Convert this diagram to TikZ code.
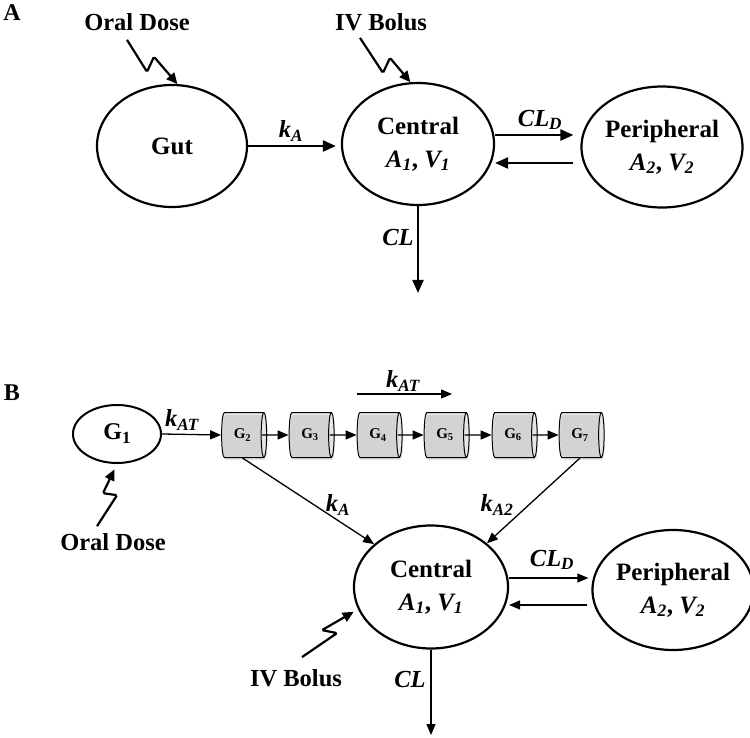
\documentclass[tikz,border=0pt]{standalone}
\usepackage{fontspec}
\setmainfont{Liberation Serif}
\usetikzlibrary{positioning,shapes.geometric,arrows.meta,shadows}
\tikzset{comp/.style = {ellipse,draw,line width=2.2pt,inner sep=0pt,align=center,font=\fontsize{25}{33}\selectfont\bfseries},
  lbl/.style = {inner sep=1pt,font=\fontsize{24.5}{28}\selectfont\bfseries},
  tube/.style = {cylinder,draw,line width=1pt,shape aspect=0.45,minimum width=45pt,minimum height=45pt,inner sep=0pt,
    cylinder uses custom fill,cylinder body fill=gray!18,cylinder end fill=white,
    drop shadow={opacity=0.2,shadow xshift=1pt,shadow yshift=-2.5pt},font=\fontsize{15}{18}\selectfont\bfseries},
  thick arr/.style = {line width=2.2pt,-{Triangle[length=13pt,width=11pt]}},
  thin arr/.style = {line width=1.3pt,-{Triangle[length=11pt,width=9pt]}},
  squig/.style = {line width=2.2pt,rounded corners=1.5pt,-{Triangle[length=11pt,width=10pt]}}}
\newcommand{\sym}[2]{\textit{#1\textsubscript{#2}}}

\begin{document}
\begin{tikzpicture}[x=1pt,y=-1pt]
  \useasboundingbox (0,0) rectangle (750,738);
  % panel A
  \node[lbl,font=\fontsize{24}{28}\selectfont\bfseries] (pa) at (12,13) {A};
  \node[lbl] (od1) at (137,22) {Oral Dose};
  \node[lbl] (iv1) at (381,22) {IV Bolus};
  \node[comp,minimum width=150pt,minimum height=122pt] (gut) at (172,146) {Gut};
  \node[comp,minimum width=152pt,minimum height=122pt] (c1) at (418,144) {Central\\\sym{A}{1}, \sym{V}{1}};
  \node[comp,minimum width=150pt,minimum height=121pt] (p1) at (662,147) {Peripheral\\\sym{A}{2}, \sym{V}{2}};
  \node[lbl] (ka1) at (291,131) {\sym{k}{A}};
  \node[lbl] (cld1) at (540,120) {\sym{CL}{D}};
  \node[lbl] (cl1) at (398,238) {\textit{CL}};
  \coordinate (out1) at (418,293);
  \draw[thick arr,shorten >=5pt] (gut.east) -- (gut.east -| c1.west);
  \draw[thick arr,shorten >=7pt] ([yshift=9pt]c1.east) -- ([yshift=9pt]c1.east -| p1.west);
  \draw[thick arr,shorten <=7pt] ([yshift=-19pt]c1.east -| p1.west) -- ([yshift=-19pt]c1.east);
  \draw[thick arr] (c1.south) -- (out1);
  \draw[squig] ([shift={(-10,8)}]od1.south) -- ++(20,32) -- ++(7,-15) -- (gut.85);
  \draw[squig] ([shift={(-21,6)}]iv1.south) -- ++(23,35) -- ++(7,-15) -- (c1.97);
  % panel B
  \node[lbl,font=\fontsize{24}{28}\selectfont\bfseries] (pb) at (12,393) {B};
  \node[comp,line width=2pt,minimum width=88pt,minimum height=58pt,font=\fontsize{24}{28}\selectfont\bfseries] (g1) at (117,434) {G{\fontsize{17}{17}\selectfont\raisebox{-4pt}{1}}};
  \foreach \i/\x in {2/242.5,3/310,4/378,5/445,6/513,7/580}
    \node[tube] (g\i) at (\x,435) {G\textsubscript{\i}};
  \draw[thin arr] (g1.east) -- (g2.west);
  \foreach \i/\j in {2/3,3/4,4/5,5/6,6/7}
    \draw[thin arr] ([xshift=-5pt]g\i.east) -- (g\j.west);
  \node[lbl] (kat1) at (182,420) {\sym{k}{AT}};
  \node[lbl] (kat2) at (403,381) {\sym{k}{AT}};
  \coordinate (flow-s) at (357,394);
  \coordinate (flow-e) at (452,394);
  \draw[thin arr] (flow-s) -- (flow-e);
  \node[comp,minimum width=154pt,minimum height=123pt] (c2) at (431,587) {Central\\\sym{A}{1}, \sym{V}{1}};
  \node[comp,minimum width=150pt,minimum height=120pt] (p2) at (673,590) {Peripheral\\\sym{A}{2}, \sym{V}{2}};
  \node[lbl] (ka2) at (338,505) {\sym{k}{A}};
  \node[lbl] (ka22) at (497,505) {\sym{k}{A2}};
  \node[lbl] (cld2) at (552,560) {\sym{CL}{D}};
  \node[lbl] (cl2) at (410,680) {\textit{CL}};
  \node[lbl] (od2) at (113,542) {Oral Dose};
  \node[lbl] (iv2) at (296,678) {IV Bolus};
  \coordinate (out2) at (431,735);
  \draw[thin arr] (g2.south) -- (c2.143);
  \draw[thin arr] (g7.south) -- (c2.38);
  \draw[thin arr,shorten >=3pt] ([yshift=9pt]c2.east) -- ([yshift=9pt]c2.east -| p2.west);
  \draw[thin arr,shorten <=4pt] ([yshift=-18pt]c2.east -| p2.west) -- ([yshift=-18pt]c2.east);
  \draw[thin arr] (c2.south) -- (out2);
  \draw[squig,shorten >=6pt] ([shift={(-16,-6)}]od2.north) -- ++(20,-31) -- ++(-14,-2) -- (g1.south);
  \draw[squig,shorten >=5pt] ([shift={(6,-11)}]iv2.north) -- ++(35,-24) -- ++(-15,-3) -- (c2.197);
\end{tikzpicture}
\end{document}
